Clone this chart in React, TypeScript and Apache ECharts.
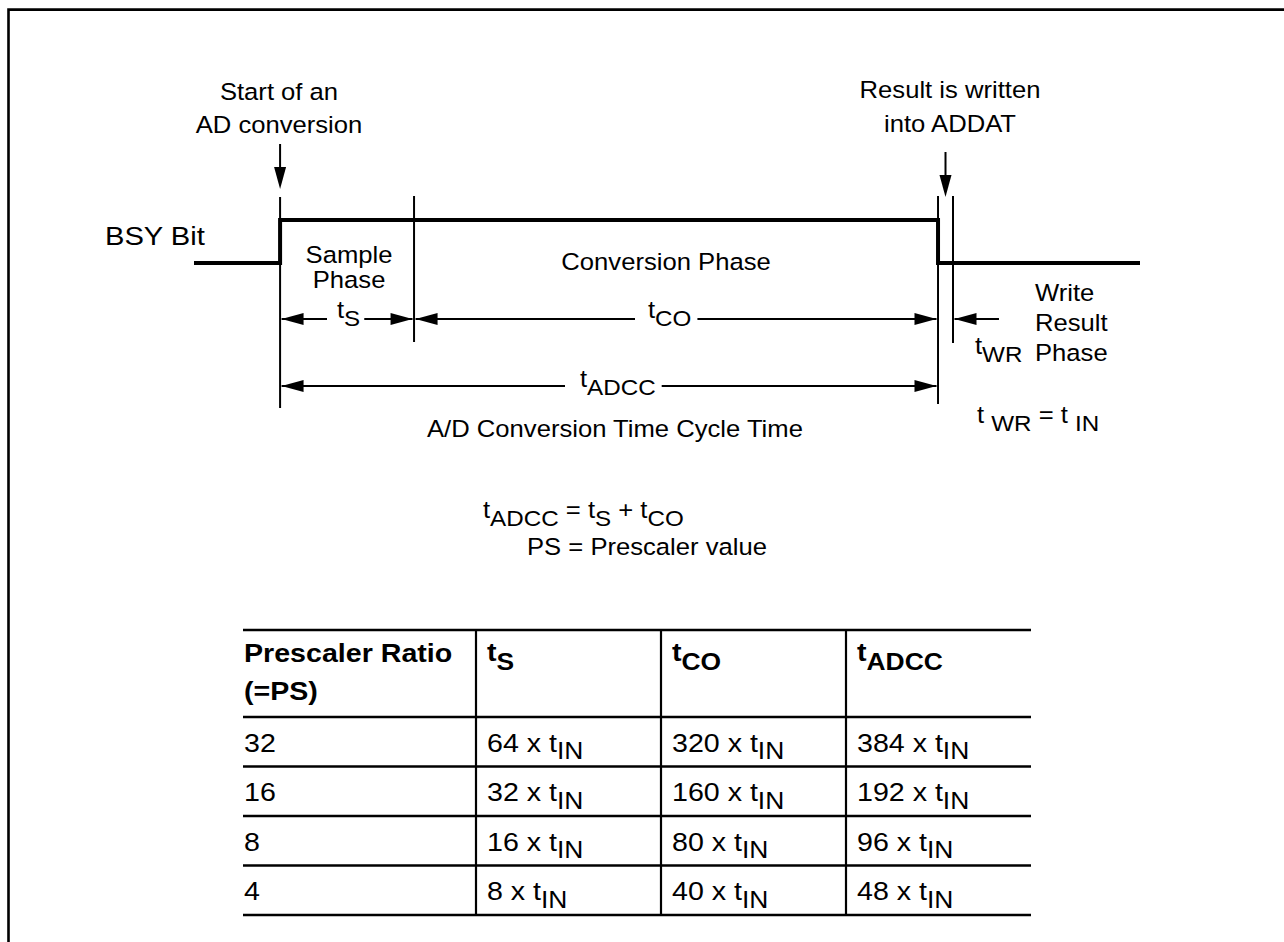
import React, { useEffect, useRef } from "react";
import * as echarts from "echarts";

// ---- Timing data (arbitrary time units, 0..100 across the drawn waveform) ----
const bsyTime = [0, 9.1, 9.1, 78.65, 78.65, 100];
const bsyLevel = [0, 0, 1, 1, 0, 0];
const phaseStart = 9.1;
const phaseSampleEnd = 23.26;
const phaseConvEnd = 78.65;
const phaseWriteEnd = 80.23;

// ---- Table data ----
const tableHeaders = ["Prescaler Ratio\n(=PS)", "S", "CO", "ADCC"];
const prescalerRatios = ["32", "16", "8", "4"];
const sampleTimes = [64, 32, 16, 8];
const conversionTimes = [320, 160, 80, 40];
const cycleTimes = [384, 192, 96, 48];

const FF = '"Liberation Sans", Arial, Helvetica, sans-serif';
const SX = 1.1;

type Part = [string, "n" | "s"];

function richStyles(fn: number, fs: number, L: number, weight: string) {
  return {
    n: { fontSize: fn, lineHeight: L, verticalAlign: "top", fontFamily: FF, fontWeight: weight, fill: "#000" },
    s: { fontSize: fs, lineHeight: L, verticalAlign: "bottom", fontFamily: FF, fontWeight: weight, fill: "#000" },
  };
}

function richLabel(
  x: number,
  baseline: number,
  parts: Part[],
  fn: number,
  fs: number,
  L: number,
  weight = "normal",
  pad?: [number, number]
) {
  const top = baseline - 0.85 * fn;
  const style: any = {
    text: parts.map(([t, k]) => `{${k}|${t}}`).join(""),
    rich: richStyles(fn, fs, L, weight),
    fontSize: fn,
    fontFamily: FF,
    fontWeight: weight,
    fill: "#000",
    align: "left",
    verticalAlign: "top",
  };
  let ex = x;
  if (pad) {
    style.backgroundColor = "#fff";
    style.padding = [0, pad[1] / SX, 0, pad[0] / SX];
    ex = x - pad[0];
  }
  return { type: "text", x: ex, y: top, scaleX: SX, silent: true, z: 10, style };
}

function plainLabel(
  x: number,
  yCenterFirst: number,
  text: string,
  fontSize: number,
  align: string,
  lineHeight: number,
  weight = "normal"
) {
  return {
    type: "text",
    x,
    y: yCenterFirst - lineHeight / 2,
    scaleX: SX,
    silent: true,
    z: 10,
    style: {
      text,
      fontSize,
      fontFamily: FF,
      fontWeight: weight,
      fill: "#000",
      align,
      verticalAlign: "top",
      lineHeight,
    },
  };
}

function line(x1: number, y1: number, x2: number, y2: number, w = 2) {
  return { type: "line", silent: true, shape: { x1, y1, x2, y2 }, style: { stroke: "#000", lineWidth: w } };
}

const AH_L = 22;
const AH_W = 6;
function headLeft(tipX: number, y: number) {
  return { type: "polygon", silent: true, shape: { points: [[tipX, y], [tipX + AH_L, y - AH_W], [tipX + AH_L, y + AH_W]] }, style: { fill: "#000" } };
}
function headRight(tipX: number, y: number) {
  return { type: "polygon", silent: true, shape: { points: [[tipX, y], [tipX - AH_L, y - AH_W], [tipX - AH_L, y + AH_W]] }, style: { fill: "#000" } };
}
function headDown(x: number, tipY: number) {
  return { type: "polygon", silent: true, shape: { points: [[x, tipY], [x - AH_W, tipY - AH_L], [x + AH_W, tipY - AH_L]] }, style: { fill: "#000" } };
}

export default function App() {
  const ref = useRef<HTMLDivElement>(null);

  useEffect(() => {
    if (!ref.current) return;
    const chart = echarts.init(ref.current, null, { renderer: "svg" });
    chart.setOption({
      animation: false,
      grid: { left: 194, top: 220, width: 946, height: 43 },
      xAxis: { type: "value", min: 0, max: 100, show: false },
      yAxis: { type: "value", min: 0, max: 1, show: false },
      series: [
        {
          type: "line",
          data: bsyTime.map((t, i) => [t, bsyLevel[i]]),
          symbol: "none",
          clip: false,
          silent: true,
          lineStyle: { color: "#000", width: 4, cap: "butt", join: "miter" },
        },
      ],
    });

    const X = (t: number) => chart.convertToPixel({ xAxisIndex: 0 }, t) as number;
    const xs = X(phaseStart);
    const xe = X(phaseSampleEnd);
    const xc = X(phaseConvEnd);
    const xw = X(phaseWriteEnd);

    const D = { fn: 23.3, fs: 22, L: 31 };
    const els: any[] = [];

    // Frame
    els.push({
      type: "polyline",
      silent: true,
      shape: { points: [[8.5, 960], [8.5, 9.6], [1300, 9.6]] },
      style: { stroke: "#000", lineWidth: 2.6, fill: null },
    });

    // Phase marker lines
    els.push(line(xs, 197, xs, 408));
    els.push(line(xe, 196, xe, 342));
    els.push(line(xc, 196, xc, 404));
    els.push(line(xw, 196, xw, 343));

    // Event arrows
    els.push(line(xs, 144, xs, 170));
    els.push(headDown(xs, 189));
    const xr = (xc + xw) / 2;
    els.push(line(xr, 152, xr, 178));
    els.push(headDown(xr, 197));

    // Dimension row 1
    const y1 = 319;
    els.push(line(xs + 1.5, y1, xe - 1.5, y1));
    els.push(headLeft(xs + 1.5, y1));
    els.push(headRight(xe - 1.5, y1));
    els.push(line(xe + 1.5, y1, xc - 1.5, y1));
    els.push(headLeft(xe + 1.5, y1));
    els.push(headRight(xc - 1.5, y1));
    els.push(line(xw + 1.5, y1, xw + 46, y1));
    els.push(headLeft(xw + 1.5, y1));

    // Dimension row 2
    const y2 = 386;
    els.push(line(xs + 1.5, y2, xc - 1.5, y2));
    els.push(headLeft(xs + 1.5, y2));
    els.push(headRight(xc - 1.5, y2));

    // Diagram labels
    els.push(plainLabel(279, 92, "Start of an\nAD conversion", 23.3, "center", 33));
    els.push(plainLabel(950, 90, "Result is written\ninto ADDAT", 23.3, "center", 34));
    els.push(plainLabel(105, 236, "BSY Bit", 26.5, "left", 30));
    els.push(plainLabel((xs + xe) / 2 + 2, 255, "Sample\nPhase", 23.3, "center", 25));
    els.push(plainLabel(666, 261.5, "Conversion Phase", 23.3, "center", 30));
    els.push(plainLabel(1035, 293, "Write\nResult\nPhase", 23.3, "left", 30));
    els.push(plainLabel(427, 429, "A/D Conversion Time Cycle Time", 23.3, "left", 30));
    els.push(plainLabel(527, 547, "PS = Prescaler value", 23.3, "left", 30));

    els.push(richLabel(337, 318, [["t", "n"], ["S", "s"]], D.fn, D.fs, D.L, "normal", [10, 4]));
    els.push(richLabel(648, 318, [["t", "n"], ["CO", "s"]], D.fn, D.fs, D.L, "normal", [13, 6]));
    els.push(richLabel(580, 387, [["t", "n"], ["ADCC", "s"]], D.fn, D.fs, D.L, "normal", [15, 6]));
    els.push(richLabel(975, 354, [["t", "n"], ["WR", "s"]], D.fn, D.fs, D.L));
    els.push(richLabel(977, 423, [["t ", "n"], ["WR", "s"], [" = t ", "n"], ["IN", "s"]], D.fn, D.fs, D.L));
    els.push(
      richLabel(483, 518, [["t", "n"], ["ADCC", "s"], [" = t", "n"], ["S", "s"], [" + t", "n"], ["CO", "s"]], D.fn, D.fs, D.L)
    );

    // Table
    const colX = [243, 476, 661, 846, 1031];
    const tTop = 630;
    const headH = 87;
    const rowH = 49.5;
    const nRows = prescalerRatios.length;
    const tBottom = tTop + headH + rowH * nRows;
    els.push(line(colX[0], tTop, colX[4], tTop, 2.6));
    for (let r = 0; r <= nRows; r++) {
      const y = tTop + headH + r * rowH;
      els.push(line(colX[0], y, colX[4], y, 2.6));
    }
    for (let c = 1; c < 4; c++) els.push(line(colX[c], tTop, colX[c], tBottom, 2.2));

    els.push(plainLabel(colX[0] + 1, tTop + 23, tableHeaders[0], 26, "left", 38, "bold"));
    for (let c = 1; c < 4; c++) {
      els.push(richLabel(colX[c] + 11, tTop + 31, [["t", "n"], [tableHeaders[c], "s"]], 26, 24, 35, "bold"));
    }
    const cols = [sampleTimes, conversionTimes, cycleTimes];
    for (let r = 0; r < nRows; r++) {
      const base = tTop + headH + r * rowH + 35;
      els.push(richLabel(colX[0] + 1, base, [[prescalerRatios[r], "n"]], 26, 24, 32.7));
      cols.forEach((arr, ci) => {
        els.push(richLabel(colX[ci + 1] + 11, base, [[`${arr[r]} x t`, "n"], ["IN", "s"]], 26, 24, 32.7));
      });
    }

    chart.setOption({ graphic: { elements: els } });

    return () => chart.dispose();
  }, []);

  return (
    <div
      ref={ref}
      style={{ position: "absolute", left: 0, top: 0, width: 1284, height: 942, background: "#fff" }}
    />
  );
}
